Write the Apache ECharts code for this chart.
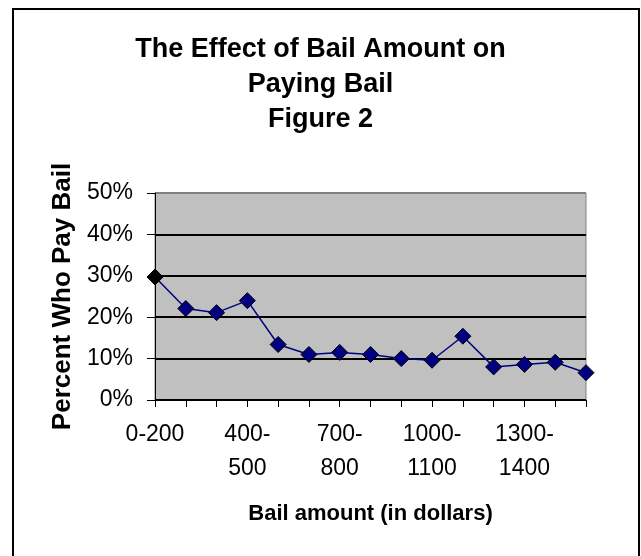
<!DOCTYPE html>
<html>
<head>
<meta charset="utf-8">
<script src="https://cdn.jsdelivr.net/npm/echarts@6/dist/echarts.min.js"></script>
<style>
  html, body { margin: 0; padding: 0; background: #fff; }
  #chart { width: 641px; height: 556px; }
</style>
</head>
<body>
<div id="chart"></div>
<script>
// Bail amount ranges (dollars)
const categories = [
  '0-200', '200-300', '300-400', '400-500', '500-600', '600-700', '700-800',
  '800-900', '900-1000', '1000-1100', '1100-1200', '1200-1300', '1300-1400',
  '1400-1500', '1500-1600'
];
// Share of defendants who paid bail in each range
const percentPaid = [
  0.297, 0.221, 0.211, 0.240, 0.134, 0.110, 0.115,
  0.110, 0.100, 0.096, 0.154, 0.080, 0.086, 0.091, 0.066
];
// Value axis ticks
const yTicks = { min: 0, max: 0.5, interval: 0.1 };

const FONT = '"Liberation Sans", Arial, sans-serif';

const chart = echarts.init(document.getElementById('chart'), null, { renderer: 'canvas' });

const seriesData = percentPaid.map((v, i) => i === 0
  ? { value: v, itemStyle: { color: '#000000' } }
  : v);

chart.setOption({
  backgroundColor: '#ffffff',
  animation: false,
  title: {
    text: 'The Effect of Bail Amount on\nPaying Bail\nFigure 2',
    left: 'center',
    top: 27,
    textStyle: {
      fontFamily: FONT, fontSize: 27, fontWeight: 'bold', color: '#000',
      lineHeight: 35
    }
  },
  graphic: [{
    type: 'rect',
    shape: { x: 13, y: 9, width: 626, height: 560 },
    style: { fill: null, stroke: '#000', lineWidth: 2 },
    silent: true
  }],
  grid: {
    left: 155, right: 55, top: 193, bottom: 156,
    show: true,
    backgroundColor: '#c0c0c0',
    borderColor: '#808080',
    borderWidth: 1
  },
  xAxis: {
    type: 'category',
    data: categories,
    boundaryGap: false,
    name: 'Bail amount (in dollars)',
    nameLocation: 'middle',
    nameGap: 103,
    nameTextStyle: { fontFamily: FONT, fontSize: 22, fontWeight: 'bold', color: '#000' },
    axisLine: { lineStyle: { color: '#000', width: 1 } },
    axisTick: { show: true, interval: 0, length: 7, lineStyle: { color: '#000' } },
    axisLabel: {
      interval: 2,
      margin: 18,
      fontFamily: FONT, fontSize: 23, color: '#000',
      lineHeight: 34,
      formatter: v => v.length > 5 ? v.replace('-', '-\n') : v
    },
    splitLine: { show: false }
  },
  yAxis: {
    type: 'value',
    min: yTicks.min, max: yTicks.max, interval: yTicks.interval,
    name: 'Percent Who Pay Bail',
    nameLocation: 'middle',
    nameRotate: 90,
    nameGap: 79,
    nameTextStyle: { fontFamily: FONT, fontSize: 26, fontWeight: 'bold', color: '#000' },
    axisLine: { show: true, lineStyle: { color: '#000', width: 1 } },
    axisTick: { show: true, length: 8, lineStyle: { color: '#000' } },
    axisLabel: {
      margin: 22,
      fontFamily: FONT, fontSize: 23, color: '#000',
      formatter: v => Math.round(v * 100) + '%'
    },
    splitLine: {
      show: true,
      lineStyle: { color: ['#000', '#000', '#000', '#000', '#000', '#808080'], width: 2 }
    }
  },
  series: [{
    type: 'line',
    data: seriesData,
    symbol: 'diamond',
    symbolSize: 16,
    lineStyle: { color: '#000080', width: 1.5 },
    itemStyle: { color: '#000080', borderColor: '#000', borderWidth: 1 },
    z: 5
  }]
});
</script>
</body>
</html>
